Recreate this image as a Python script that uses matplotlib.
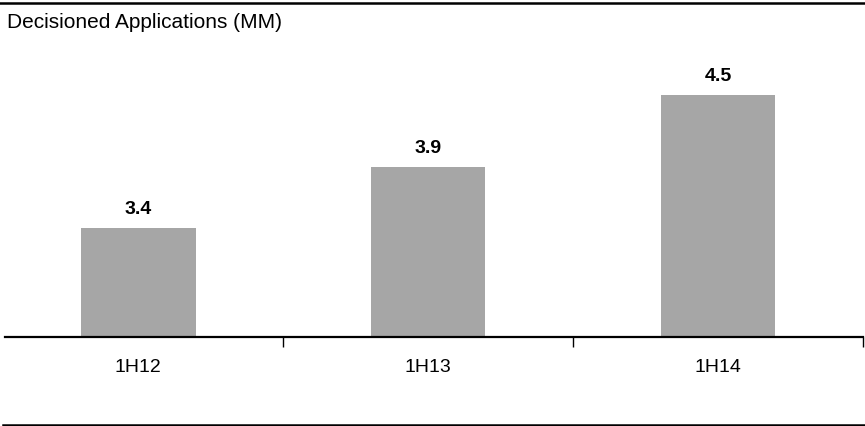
import matplotlib.pyplot as plt
from matplotlib.lines import Line2D

plt.rcParams['font.family'] = ['Liberation Sans', 'DejaVu Sans']

# Data
periods = ['1H12', '1H13', '1H14']
applications = [3.4, 3.9, 4.5]

W, H = 865, 426
fig = plt.figure(figsize=(W / 100, H / 100), dpi=100)

# axes placed in pixel coordinates
left, right, bottom, top = 5, 863, 337, 40
ax = fig.add_axes([left / W, (H - bottom) / H, (right - left) / W, (bottom - top) / H])

x = range(len(periods))
bars = ax.bar(x, applications, width=0.395, color='#A6A6A6', zorder=2)

for xi, v in zip(x, applications):
    ax.annotate(f'{v:.1f}', (xi, v), xytext=(0, 10), textcoords='offset points',
                ha='center', va='baseline', fontsize=14, fontweight='bold')

ax.set_xlim(-0.46, 2.5)
ax.set_ylim(2.5, 4.95)

for s in ['top', 'right', 'left']:
    ax.spines[s].set_visible(False)
ax.spines['bottom'].set_linewidth(1.6)
ax.set_yticks([])

ax.set_xticks(list(x))
ax.set_xticklabels(periods, fontsize=14)
ax.tick_params(axis='x', which='major', length=0, pad=15.5)
ax.set_xticks([0.5, 1.5, 2.5], minor=True)
ax.tick_params(axis='x', which='minor', length=7, width=1, direction='out')

# horizontal rules and title
fig.add_artist(Line2D([0, 1], [1 - 3 / H, 1 - 3 / H], color='black', linewidth=1.8))
fig.add_artist(Line2D([3 / W, 1], [1 / H, 1 / H], color='black', linewidth=1.8))
fig.text(7 / W, 1 - 23 / H, 'Decisioned Applications (MM)', fontsize=15, va='center', ha='left')

fig.savefig('out.png', dpi=100)
